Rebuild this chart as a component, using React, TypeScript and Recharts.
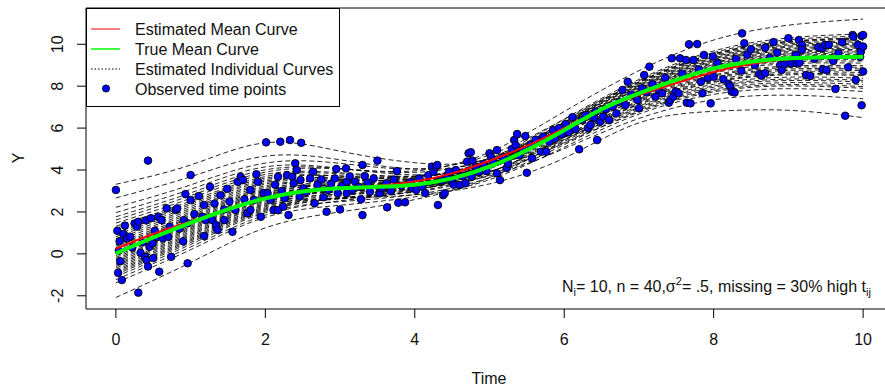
import React from "react";
import {
  ComposedChart,
  Line,
  Scatter,
  XAxis,
  YAxis,
  ReferenceLine,
} from "recharts";

const FONT = "'Liberation Sans', Arial, sans-serif";

// axis ranges (R style, 4% padding around the data)
const X_MIN = -0.4;
const X_MAX = 10.4;
const Y_MIN = -2.63;
const Y_MAX = 11.73;
const X_TICKS = [0, 2, 4, 6, 8, 10];
const Y_TICKS = [-2, 0, 2, 4, 6, 8, 10];

// grid for the mean curves
const MEAN_TIMES = [0, 0.5, 1, 1.5, 2, 2.5, 3, 3.5, 4, 4.5, 5, 5.5, 6, 6.5, 7, 7.5, 8, 8.5, 9, 9.5, 10];
const TRUE_MEAN = [0.02, 0.78, 1.48, 2.12, 2.65, 2.98, 3.13, 3.2, 3.3, 3.6, 4.16, 4.95, 5.9, 6.9, 7.66, 8.3, 8.85, 9.17, 9.33, 9.38, 9.4];
const EST_MEAN = [0.25, 0.95, 1.55, 2.15, 2.67, 3.0, 3.15, 3.25, 3.45, 3.84, 4.44, 5.15, 6.0, 6.88, 7.58, 8.15, 8.68, 9.06, 9.28, 9.36, 9.4];

// grid for the fitted subject curves
const CURVE_TIMES = [0, 1, 2, 3, 4, 5, 6, 7, 8, 9, 10];
const INDIVIDUAL_CURVES: number[][] = [
  [3.32, 4.24, 5.3, 4.9, 4.35, 4.55, 6.2, 7.84, 9.08, 9.59, 9.7],
  [2.67, 3.68, 4.66, 4.49, 4.05, 4.43, 5.81, 7.36, 8.48, 8.89, 8.9],
  [2.22, 3.29, 4.33, 4.32, 4.05, 4.72, 6.42, 8.2, 9.53, 10.12, 10.3],
  [1.97, 3.08, 4.15, 4.08, 3.77, 4.15, 5.46, 6.94, 7.95, 8.27, 8.2],
  [1.77, 2.91, 4.01, 4.07, 3.89, 4.57, 6.26, 8.02, 9.3, 9.86, 10.0],
  [1.62, 2.78, 3.9, 4.05, 3.96, 4.85, 6.79, 8.74, 10.2, 10.91, 11.2],
  [1.47, 2.65, 3.79, 3.87, 3.71, 4.3, 5.84, 7.48, 8.63, 9.07, 9.1],
  [1.32, 2.52, 3.69, 3.82, 3.7, 4.39, 6.02, 7.73, 8.94, 9.44, 9.52],
  [1.22, 2.43, 3.61, 3.71, 3.57, 4.12, 5.56, 7.12, 8.18, 8.54, 8.5],
  [1.12, 2.35, 3.54, 3.72, 3.68, 4.45, 6.17, 7.95, 9.21, 9.75, 9.88],
  [1.02, 2.26, 3.47, 3.58, 3.45, 3.94, 5.28, 6.76, 7.73, 8.01, 7.9],
  [0.92, 2.17, 3.4, 3.64, 3.64, 4.48, 6.27, 8.09, 9.39, 9.96, 10.12],
  [0.82, 2.09, 3.33, 3.55, 3.54, 4.28, 5.94, 7.66, 8.85, 9.33, 9.4],
  [0.72, 2.0, 3.25, 3.46, 3.44, 4.1, 5.64, 7.26, 8.36, 8.75, 8.74],
  [0.62, 1.92, 3.18, 3.5, 3.59, 4.53, 6.43, 8.32, 9.68, 10.3, 10.5],
  [0.52, 1.83, 3.11, 3.38, 3.44, 4.2, 5.87, 7.59, 8.76, 9.22, 9.28],
  [0.44, 1.76, 3.05, 3.25, 3.23, 3.72, 5.02, 6.46, 7.35, 7.57, 7.4],
  [0.37, 1.7, 3.0, 3.33, 3.44, 4.3, 6.08, 7.88, 9.12, 9.65, 9.76],
  [0.29, 1.63, 2.94, 3.25, 3.34, 4.1, 5.72, 7.41, 8.54, 8.96, 8.98],
  [0.22, 1.57, 2.89, 3.27, 3.45, 4.4, 6.29, 8.17, 9.49, 10.08, 10.25],
  [0.14, 1.5, 2.84, 3.14, 3.24, 3.92, 5.45, 7.05, 8.09, 8.43, 8.38],
  [0.07, 1.44, 2.79, 3.17, 3.33, 4.21, 5.98, 7.77, 8.99, 9.49, 9.58],
  [0.0, 1.38, 2.74, 3.11, 3.27, 4.11, 5.81, 7.54, 8.7, 9.15, 9.2],
  [-0.08, 1.31, 2.68, 3.11, 3.34, 4.31, 6.19, 8.06, 9.35, 9.91, 10.06],
  [-0.16, 1.25, 2.62, 2.97, 3.11, 3.8, 5.3, 6.87, 7.86, 8.17, 8.08],
  [-0.23, 1.19, 2.57, 3.02, 3.27, 4.23, 6.08, 7.91, 9.17, 9.7, 9.82],
  [-0.3, 1.13, 2.52, 2.96, 3.2, 4.1, 5.86, 7.62, 8.81, 9.28, 9.34],
  [-0.38, 1.06, 2.46, 2.97, 3.28, 4.35, 6.33, 8.26, 9.6, 10.21, 10.4],
  [-0.46, 0.99, 2.4, 2.84, 3.08, 3.9, 5.54, 7.21, 8.29, 8.67, 8.65],
  [-0.53, 0.93, 2.35, 2.86, 3.16, 4.14, 5.98, 7.8, 9.03, 9.54, 9.64],
  [-0.6, 0.87, 2.3, 2.66, 2.82, 3.34, 4.57, 6.25, 6.8, 6.85, 6.5],
  [-0.68, 0.8, 2.25, 2.79, 3.14, 4.19, 6.11, 7.98, 9.26, 9.8, 9.94],
  [-0.76, 0.73, 2.19, 2.66, 2.95, 3.76, 5.36, 6.99, 8.01, 8.34, 8.28],
  [-0.83, 0.67, 2.14, 2.69, 3.05, 4.05, 5.88, 7.7, 8.9, 9.38, 9.46],
  [-0.9, 0.61, 2.09, 2.62, 2.97, 3.88, 5.59, 7.31, 8.42, 8.82, 8.82],
  [-0.98, 0.54, 2.03, 2.65, 3.08, 4.21, 6.2, 8.13, 9.44, 10.02, 10.18],
  [-1.08, 0.45, 1.96, 2.49, 2.83, 3.64, 5.21, 6.81, 7.79, 8.08, 7.98],
  [-1.23, 0.33, 1.85, 2.53, 3.02, 4.2, 6.25, 8.21, 9.54, 10.14, 10.32],
  [-1.38, 0.2, 1.74, 2.32, 2.72, 3.54, 5.09, 6.67, 7.61, 7.88, 7.75],
  [-2.08, -0.41, 1.24, 2.0, 2.59, 3.64, 5.42, 7.16, 8.22, 8.59, 8.56],
];

// observed (time, response) pairs
const OBSERVED: [number, number][] = [
  [0.0, 3.05], [0.02, 1.1], [0.03, -0.9], [0.08, -1.25], [0.05, 0.6], [0.04, 0.15], [0.06, -0.35], [0.1, 0.95],
  [0.12, 1.35], [0.15, 0.74], [0.19, 0.82], [0.22, 0.3], [0.25, 1.45], [0.28, 1.3], [0.3, 1.53], [0.3, -1.85],
  [0.33, 0.05], [0.36, 0.55], [0.39, -0.14], [0.41, -0.3], [0.43, -0.6], [0.4, 1.6], [0.43, 4.45], [0.45, 0.34],
  [0.47, 1.7], [0.49, 0.5], [0.5, -0.2], [0.52, 1.1], [0.55, 0.8], [0.58, -0.85], [0.57, 1.77], [0.61, 1.61],
  [0.63, 0.74], [0.66, 0.98], [0.68, 2.17], [0.7, 0.82], [0.74, -0.14], [0.72, 1.3],
  [0.8, 2.09], [0.82, 2.17], [0.85, 1.2], [0.9, 0.6], [0.91, 1.61], [0.93, 2.85], [0.96, 1.46], [0.96, -0.45],
  [1.0, 3.76], [1.0, 2.57], [1.05, 1.9], [1.11, 2.76], [1.16, 1.77], [1.18, 0.85], [1.2, 1.61], [1.18, 2.33],
  [1.26, 3.2], [1.29, 1.61], [1.32, 2.4], [1.34, 1.37], [1.36, 1.14], [1.4, 2.8], [1.45, 1.61], [1.45, 2.12],
  [1.49, 3.1], [1.52, 2.5], [1.56, 1.05], [1.6, 2.09], [1.63, 3.44], [1.67, 3.68], [1.7, 3.52], [1.72, 2.6],
  [1.76, 1.93], [1.8, 2.09], [1.8, 3.05], [1.85, 2.57], [1.88, 3.8], [1.9, 3.44], [1.94, 1.77], [1.98, 2.9],
  [2.01, 5.32], [2.03, 2.89], [2.07, 2.57], [2.11, 2.09], [2.13, 3.3], [2.17, 3.68], [2.17, 2.09],
  [2.2, 5.35], [2.22, 3.0], [2.24, 2.25], [2.26, 2.65], [2.29, 3.76], [2.31, 1.85], [2.33, 5.43], [2.36, 3.68],
  [2.38, 3.37], [2.4, 4.32], [2.42, 4.0], [2.46, 2.73], [2.47, 3.52], [2.48, 5.3], [2.51, 3.13], [2.55, 2.95],
  [2.6, 3.6], [2.64, 3.92], [2.66, 2.41], [2.7, 3.3], [2.75, 3.55], [2.78, 2.7], [2.82, 2.01], [2.84, 3.05],
  [2.88, 3.35], [2.93, 3.6], [2.95, 4.05], [2.97, 2.89], [3.0, 2.12], [3.03, 3.25], [3.08, 4.08], [3.09, 3.44],
  [3.09, 2.89], [3.13, 3.7], [3.16, 3.05], [3.2, 3.44], [3.25, 3.2], [3.28, 2.6], [3.3, 4.24], [3.3, 1.85],
  [3.33, 3.71], [3.37, 3.4], [3.4, 2.96], [3.45, 3.6], [3.5, 4.45], [3.53, 2.89], [3.56, 3.15], [3.62, 3.37],
  [3.63, 2.22], [3.68, 3.0], [3.72, 3.55], [3.76, 3.95], [3.78, 2.44], [3.82, 3.25], [3.87, 2.46], [3.92, 3.37],
  [3.95, 3.44], [3.97, 3.13], [4.02, 3.05], [4.06, 3.6], [4.1, 3.2], [4.14, 2.9], [4.18, 3.75], [4.23, 4.16],
  [4.25, 3.92], [4.28, 4.16], [4.3, 4.24], [4.31, 2.33], [4.36, 3.5], [4.38, 2.8], [4.4, 2.89], [4.44, 3.76],
  [4.46, 3.92], [4.5, 3.44], [4.52, 3.3], [4.55, 4.0], [4.6, 3.28], [4.64, 3.7], [4.68, 3.37], [4.7, 4.4],
  [4.72, 4.8], [4.75, 4.85], [4.76, 3.68], [4.77, 4.45], [4.82, 4.15], [4.86, 3.9],
  [4.92, 4.3], [4.96, 3.95], [5.0, 4.8], [5.02, 4.63], [5.05, 4.4], [5.1, 4.95], [5.1, 3.84], [5.14, 3.52],
  [5.18, 4.6], [5.23, 4.1], [5.25, 4.3], [5.3, 5.0], [5.33, 5.43], [5.35, 5.19], [5.37, 5.72], [5.4, 4.7],
  [5.45, 4.95], [5.48, 5.62], [5.5, 3.87], [5.55, 5.2], [5.57, 4.56], [5.62, 5.45], [5.69, 4.87], [5.72, 5.6],
  [5.76, 4.87], [5.8, 5.35], [5.85, 5.9], [5.88, 5.5], [5.93, 6.0], [5.97, 5.7], [6.02, 6.2], [6.06, 5.8],
  [6.11, 6.52], [6.15, 5.95], [6.2, 4.99], [6.24, 6.39], [6.29, 6.63], [6.32, 6.0], [6.35, 6.15], [6.4, 6.5],
  [6.42, 6.78], [6.44, 5.43], [6.48, 6.3], [6.52, 6.55], [6.56, 6.9], [6.6, 6.39], [6.65, 7.02], [6.7, 6.7],
  [6.74, 7.26], [6.78, 7.82], [6.82, 7.1], [6.85, 8.21], [6.9, 7.6], [6.96, 7.5], [6.98, 7.34], [7.0, 6.95],
  [7.04, 7.9], [7.07, 8.53], [7.1, 7.7], [7.14, 8.93], [7.18, 8.1], [7.22, 7.5], [7.27, 7.82], [7.31, 7.66],
  [7.35, 8.4], [7.4, 7.21], [7.42, 7.34], [7.44, 9.33], [7.46, 7.5], [7.49, 7.74], [7.53, 7.66], [7.55, 9.33],
  [7.58, 8.6], [7.63, 9.25], [7.64, 7.21], [7.67, 10.0], [7.69, 7.18], [7.73, 9.25], [7.78, 10.01], [7.8, 8.8],
  [7.83, 8.21], [7.85, 7.66], [7.87, 9.49], [7.92, 8.38], [7.96, 7.18], [7.99, 9.41], [8.0, 8.45], [8.05, 9.1],
  [8.13, 8.33], [8.2, 8.11], [8.22, 8.0], [8.24, 7.74], [8.28, 7.7], [8.3, 9.3], [8.37, 8.74], [8.38, 10.52],
  [8.41, 10.05], [8.45, 9.5], [8.5, 9.76], [8.55, 9.0], [8.61, 8.58], [8.64, 8.5], [8.69, 8.62], [8.69, 9.84],
  [8.75, 9.35], [8.8, 10.1], [8.85, 9.6], [8.89, 9.01], [8.91, 8.77], [8.95, 9.05], [9.0, 10.29], [9.04, 9.09],
  [9.1, 9.5], [9.11, 9.09], [9.14, 10.2], [9.15, 9.12], [9.18, 9.97], [9.18, 9.73], [9.24, 8.53], [9.29, 8.49],
  [9.35, 9.3], [9.4, 9.86], [9.45, 9.81], [9.46, 8.8], [9.49, 9.97], [9.51, 8.77], [9.54, 9.97], [9.6, 9.2],
  [9.63, 7.87], [9.67, 9.57], [9.72, 10.1], [9.76, 6.59], [9.8, 8.9], [9.86, 10.44], [9.87, 10.36], [9.9, 8.3],
  [9.93, 9.97], [9.96, 9.4], [9.97, 9.65], [9.98, 10.4], [9.98, 7.09], [10.0, 10.44], [10.0, 9.89], [10.0, 8.7],
];

const trueMeanData = MEAN_TIMES.map((x, i) => ({ x, y: TRUE_MEAN[i] }));
const estMeanData = MEAN_TIMES.map((x, i) => ({ x, y: EST_MEAN[i] }));
const curveData = INDIVIDUAL_CURVES.map((vals) =>
  CURVE_TIMES.map((x, i) => ({ x, y: vals[i] }))
);
const obsData = OBSERVED.map(([x, y]) => ({ x, y }));

const CHART_W = 893;
const CHART_H = 389;
const MARGIN = { top: 8, right: 0, bottom: 0, left: 0 };

const XTick = (props: any) => {
  const { x, payload } = props;
  return (
    <text x={x} y={345} textAnchor="middle" fontSize={16} fontFamily={FONT} fill="#111">
      {payload.value}
    </text>
  );
};

const YTick = (props: any) => {
  const { y, payload } = props;
  const bx = 63.5;
  return (
    <text
      x={bx}
      y={y}
      transform={`rotate(-90 ${bx} ${y})`}
      textAnchor="middle"
      fontSize={16}
      fontFamily={FONT}
      fill="#111"
    >
      {payload.value}
    </text>
  );
};

const ObsDot = (props: any) => (
  <circle cx={props.cx} cy={props.cy} r={3.8} fill="#0000FF" stroke="#000" strokeWidth={0.9} />
);

function Overlay() {
  return (
    <svg
      width={885}
      height={389}
      style={{ position: "absolute", left: 0, top: 0, pointerEvents: "none" }}
    >
      {/* legend */}
      <rect x={86.5} y={8.5} width={253} height={98} fill="#fff" stroke="#000" strokeWidth={1} />
      <line x1={91} x2={120} y1={29} y2={29} stroke="#FF0000" strokeWidth={1} />
      <line x1={91} x2={120} y1={49} y2={49} stroke="#00FF00" strokeWidth={1.5} />
      <line x1={91} x2={120} y1={69} y2={69} stroke="#000" strokeWidth={1} strokeDasharray="1.5 2" />
      <circle cx={106} cy={88.5} r={3.6} fill="#0000FF" stroke="#000" strokeWidth={0.8} />
      <g fontFamily={FONT} fontSize={16} fill="#111">
        <text x={135} y={35}>Estimated Mean Curve</text>
        <text x={135} y={55}>True Mean Curve</text>
        <text x={135} y={75}>Estimated Individual Curves</text>
        <text x={135} y={95}>Observed time points</text>
      </g>

      {/* axis titles */}
      <text x={489} y={384} textAnchor="middle" fontFamily={FONT} fontSize={16} fill="#111">
        Time
      </text>
      <text
        x={24}
        y={158}
        transform="rotate(-90 24 158)"
        textAnchor="middle"
        fontFamily={FONT}
        fontSize={16}
        fill="#111"
      >
        Y
      </text>

      {/* simulation settings */}
      <text x={562} y={292} fontFamily={FONT} fontSize={16} fill="#111">
        N
        <tspan dy={4} fontSize={11}>i</tspan>
        <tspan dy={-4}>= 10, n = 40,σ</tspan>
        <tspan dy={-7} fontSize={11}>2</tspan>
        <tspan dy={7}>= .5, missing = 30% high t</tspan>
        <tspan dy={4} fontSize={11}>ij</tspan>
      </text>
    </svg>
  );
}

// the two mean curves sit on their own layer so they stay above the markers
function MeanLayer() {
  return (
    <div style={{ position: "absolute", left: 0, top: 0 }}>
      <ComposedChart width={CHART_W} height={CHART_H} margin={MARGIN}>
        <XAxis
          dataKey="x"
          type="number"
          domain={[X_MIN, X_MAX]}
          ticks={X_TICKS}
          allowDataOverflow
          height={80}
          tick={false}
          tickLine={false}
          axisLine={false}
        />
        <YAxis
          dataKey="y"
          type="number"
          domain={[Y_MIN, Y_MAX]}
          ticks={Y_TICKS}
          allowDataOverflow
          width={86}
          tick={false}
          tickLine={false}
          axisLine={false}
        />
        <Line
          data={estMeanData}
          dataKey="y"
          type="natural"
          stroke="#FF0000"
          strokeWidth={2}
          dot={false}
          activeDot={false}
          isAnimationActive={false}
        />
        <Line
          data={trueMeanData}
          dataKey="y"
          type="natural"
          stroke="#00FF00"
          strokeWidth={4}
          dot={false}
          activeDot={false}
          isAnimationActive={false}
        />
      </ComposedChart>
    </div>
  );
}

export default function App() {
  return (
    <div
      style={{
        position: "absolute",
        left: 0,
        top: 0,
        width: 885,
        height: 389,
        overflow: "hidden",
        background: "#fff",
      }}
    >
      <div style={{ position: "absolute", left: 0, top: 0 }}>
        <ComposedChart width={CHART_W} height={CHART_H} margin={MARGIN}>
          <XAxis
            dataKey="x"
            type="number"
            domain={[X_MIN, X_MAX]}
            ticks={X_TICKS}
            allowDataOverflow
            height={80}
            tickSize={9}
            tick={<XTick />}
            axisLine={{ stroke: "#000" }}
            tickLine={{ stroke: "#000" }}
          />
          <YAxis
            dataKey="y"
            type="number"
            domain={[Y_MIN, Y_MAX]}
            ticks={Y_TICKS}
            allowDataOverflow
            width={86}
            tickSize={9}
            tick={<YTick />}
            axisLine={{ stroke: "#000" }}
            tickLine={{ stroke: "#000" }}
          />
          <ReferenceLine y={Y_MAX} stroke="#000" strokeWidth={1} />

          {curveData.map((d, i) => (
            <Line
              key={`curve-${i}`}
              data={d}
              dataKey="y"
              type="natural"
              stroke="#000"
              strokeOpacity={0.85}
              strokeWidth={1}
              strokeDasharray="5 3"
              dot={false}
              activeDot={false}
              isAnimationActive={false}
            />
          ))}

          <Scatter data={obsData} dataKey="y" shape={<ObsDot />} isAnimationActive={false} />
        </ComposedChart>
      </div>
      <MeanLayer />
      <Overlay />
    </div>
  );
}
